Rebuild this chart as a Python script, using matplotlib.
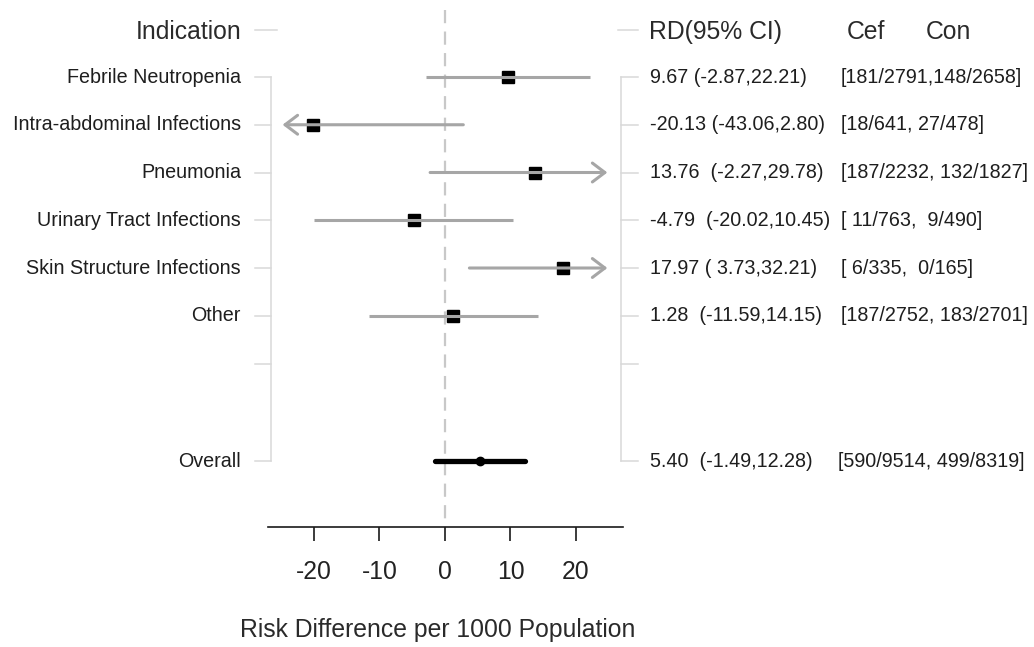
import matplotlib
matplotlib.use("Agg")
import matplotlib.pyplot as plt
from matplotlib.transforms import blended_transform_factory

plt.rcParams["font.family"] = ["Liberation Sans", "DejaVu Sans"]
plt.rcParams["lines.scale_dashes"] = False

# Subgroup results: risk difference per 1000 with 95% CI, events/total per arm
indications = ["Febrile Neutropenia", "Intra-abdominal Infections", "Pneumonia",
               "Urinary Tract Infections", "Skin Structure Infections", "Other"]
rd = [9.67, -20.13, 13.76, -4.79, 17.97, 1.28]
rd_lo = [-2.87, -43.06, -2.27, -20.02, 3.73, -11.59]
rd_hi = [22.21, 2.80, 29.78, 10.45, 32.21, 14.15]
cef_events = [181, 18, 187, 11, 6, 187]
cef_total = [2791, 641, 2232, 763, 335, 2752]
con_events = [148, 27, 132, 9, 0, 183]
con_total = [2658, 478, 1827, 490, 165, 2701]

overall_label = "Overall"
overall_rd = 5.40
overall_lo = -1.49
overall_hi = 12.28
overall_cef = (590, 9514)
overall_con = (499, 8319)

x_ticks = [-20, -10, 0, 10, 20]
x_label = "Risk Difference per 1000 Population"
headers = ["Indication", "RD(95% CI)", "Cef", "Con"]

# spacing used in the text columns, row by row
rd_gaps = [" ", " ", "  ", "  ", " ", "  "]
count_pads = ["", "", "", " ", " ", ""]
count_seps = [",", ", ", ", ", ",  ", ",  ", ", "]

W, H = 1034, 647
fig = plt.figure(figsize=(W / 100, H / 100), dpi=100)
fig.patch.set_facecolor("white")

# forest panel in pixel-derived figure fractions
ax_left, ax_right, ax_bottom = 268, 623, 527
ax = fig.add_axes([ax_left / W, 1 - ax_bottom / H, (ax_right - ax_left) / W, ax_bottom / H])
ax.set_facecolor("none")
ax.set_xlim(-27.02, 27.18)
ax.set_ylim(9.424, -1.6126)

for s in ["top", "left", "right"]:
    ax.spines[s].set_visible(False)
ax.spines["bottom"].set_color("#1a1a1a")
ax.spines["bottom"].set_linewidth(1.2)
ax.set_yticks([])
ax.set_xticks(x_ticks)
ax.set_xticklabels([str(t) for t in x_ticks])
ax.tick_params(axis="x", direction="out", length=10, width=1.2, color="#1a1a1a",
               pad=14, labelsize=17.8, labelcolor="#222222")

text_color = "#1e1e1e"
line_gray = "#a6a6a6"
axis_gray = "#d9d9d9"

rows = list(range(len(indications)))
header_row = -0.98
blank_row = len(indications)
overall_row = 8.05
clip = 24.8

# reference line at zero
ax.plot([0, 0], [-1.40, 9.424], color="#c8c8c8", lw=1.6, dashes=(9.5, 6), zorder=1,
        clip_on=False)

arrow_style = "->,head_length=0.9,head_width=0.68"

# subgroup estimates; intervals beyond the panel end in an arrow
for r, est, lo, hi in zip(rows, rd, rd_lo, rd_hi):
    ax.plot([est], [r], marker="s", ms=8.5, color="black", mec="black", zorder=3)
    a = max(lo, -clip)
    b = min(hi, clip)
    if lo < -clip:
        ax.annotate("", xy=(a, r), xytext=(b, r),
                    arrowprops=dict(arrowstyle=arrow_style, color=line_gray, lw=2.2,
                                    shrinkA=0, shrinkB=0), zorder=4)
    elif hi > clip:
        ax.annotate("", xy=(b, r), xytext=(a, r),
                    arrowprops=dict(arrowstyle=arrow_style, color=line_gray, lw=2.2,
                                    shrinkA=0, shrinkB=0), zorder=4)
    else:
        ax.plot([a, b], [r, r], color=line_gray, lw=2.2, zorder=4, solid_capstyle="butt")

# pooled estimate
ax.plot([overall_lo, overall_hi], [overall_row, overall_row], color="black", lw=3.8,
        solid_capstyle="round", zorder=3)
ax.plot([overall_rd], [overall_row], marker="o", ms=6, color="black", zorder=4)

# side panels: x in figure pixels, y in row units
trans = blended_transform_factory(fig.transFigure, ax.transData)


def px(x):
    return x / W


tick_rows = [header_row] + rows + [blank_row, overall_row]
# left row guide
ax.plot([px(270.5), px(270.5)], [0, overall_row], color=axis_gray, lw=1.1,
        transform=trans, clip_on=False)
for r in tick_rows:
    x1 = 277 if r == header_row else 270.5
    ax.plot([px(255), px(x1)], [r, r], color=axis_gray, lw=1.1, transform=trans,
            clip_on=False)
# right row guide
ax.plot([px(621), px(621)], [0, overall_row], color=axis_gray, lw=1.1,
        transform=trans, clip_on=False)
for r in tick_rows:
    x0 = 618 if r == header_row else 621
    ax.plot([px(x0), px(638)], [r, r], color=axis_gray, lw=1.1, transform=trans,
            clip_on=False)

# headers
header_size = 17.8
header_x = [242, 649, 847, 926]
header_ha = ["right", "left", "left", "left"]
for label, x, ha in zip(headers, header_x, header_ha):
    ax.text(px(x), header_row + 0.04, label, ha=ha, va="center", fontsize=header_size,
            color="#2a2a2a", transform=trans)


def rd_text(est, lo, hi, gap="  "):
    return f"{est:.2f}{gap}({lo: .2f},{hi:.2f})".replace("( -", "(-")


def count_text(ce, ct, ne, nt, pad="", sep=", "):
    return f"[{pad}{ce}/{ct}{sep}{ne}/{nt}]"


label_size = 14.2
for i, r in enumerate(rows):
    ax.text(px(241), r, indications[i], ha="right", va="center", fontsize=label_size,
            color=text_color, transform=trans)
    ax.text(px(650), r, rd_text(rd[i], rd_lo[i], rd_hi[i], rd_gaps[i]), ha="left",
            va="center", fontsize=label_size, color=text_color, transform=trans)
    ax.text(px(841), r, count_text(cef_events[i], cef_total[i], con_events[i],
                                   con_total[i], count_pads[i], count_seps[i]),
            ha="left", va="center", fontsize=label_size, color=text_color, transform=trans)

ax.text(px(241), overall_row, overall_label, ha="right", va="center", fontsize=label_size,
        color=text_color, transform=trans)
ax.text(px(650), overall_row, rd_text(overall_rd, overall_lo, overall_hi), ha="left",
        va="center", fontsize=label_size, color=text_color, transform=trans)
ax.text(px(838), overall_row, count_text(*overall_cef, *overall_con), ha="left",
        va="center", fontsize=label_size, color=text_color, transform=trans)

fig.text(438 / W, 1 - 630 / H, x_label, ha="center", va="center", fontsize=header_size,
         color="#2a2a2a")

fig.savefig("out.png", dpi=100, facecolor="white")
